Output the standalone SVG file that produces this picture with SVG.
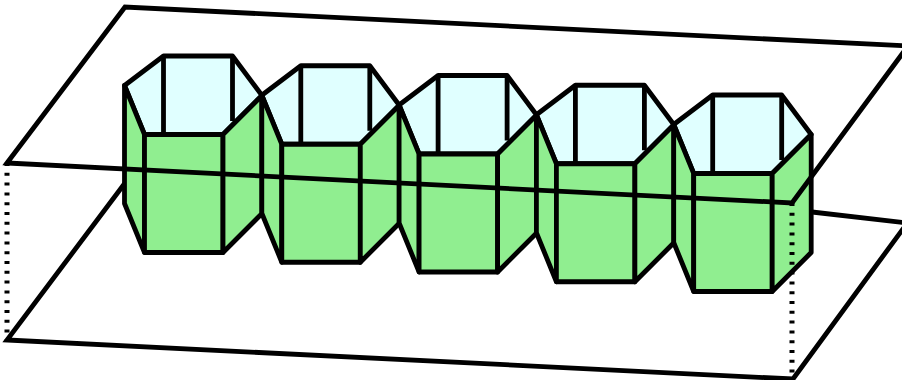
<svg xmlns="http://www.w3.org/2000/svg" width="902" height="380" viewBox="0 0 902 380">
<style>
.e{fill:none;stroke:#000;stroke-width:4.800;stroke-linejoin:miter}
.t{fill:#e0ffff;stroke:#000;stroke-width:4.800;stroke-linejoin:round}
.g{fill:#90ee90;stroke:#000;stroke-width:4.800;stroke-linejoin:round}
.d{fill:none;stroke:#000;stroke-width:5;stroke-dasharray:3 6.8}
</style>
<defs>
<g id="hex">
<polygon class="t" points="124.500,85.500 163.500,56 232.500,56 262,95.500 223,134.500 144.500,134.500"/>
<path class="e" d="M163.500,56V134M232.500,56V121"/>
<polygon class="g" points="124.500,85.500 144.500,134.500 144.500,252.500 124.500,203.500"/>
<polygon class="g" points="144.500,134.500 223,134.500 223,252.500 144.500,252.500"/>
<polygon class="g" points="223,134.500 262,95.500 262,213.500 223,252.500"/>
</g>
</defs>
<g id="connectors-back">
<path class="e" d="M125,183L7,340L793,379L908,222M812,212L908,223"/>
<path class="d" d="M7,163V340M792,203V379"/>
</g>
<g id="hex1"><use href="#hex"/></g>
<g id="hex2"><use href="#hex" x="137.300" y="9.750"/></g>
<g id="hex3"><use href="#hex" x="274.600" y="19.500"/></g>
<g id="hex4"><use href="#hex" x="411.900" y="29.250"/></g>
<g id="hex5"><use href="#hex" x="549.200" y="39"/></g>
<g id="connectors">
<path class="d" d="M792,203V270"/>
<path class="e" d="M7,163L125,7L908,46L792,203Z"/>
</g>
</svg>
